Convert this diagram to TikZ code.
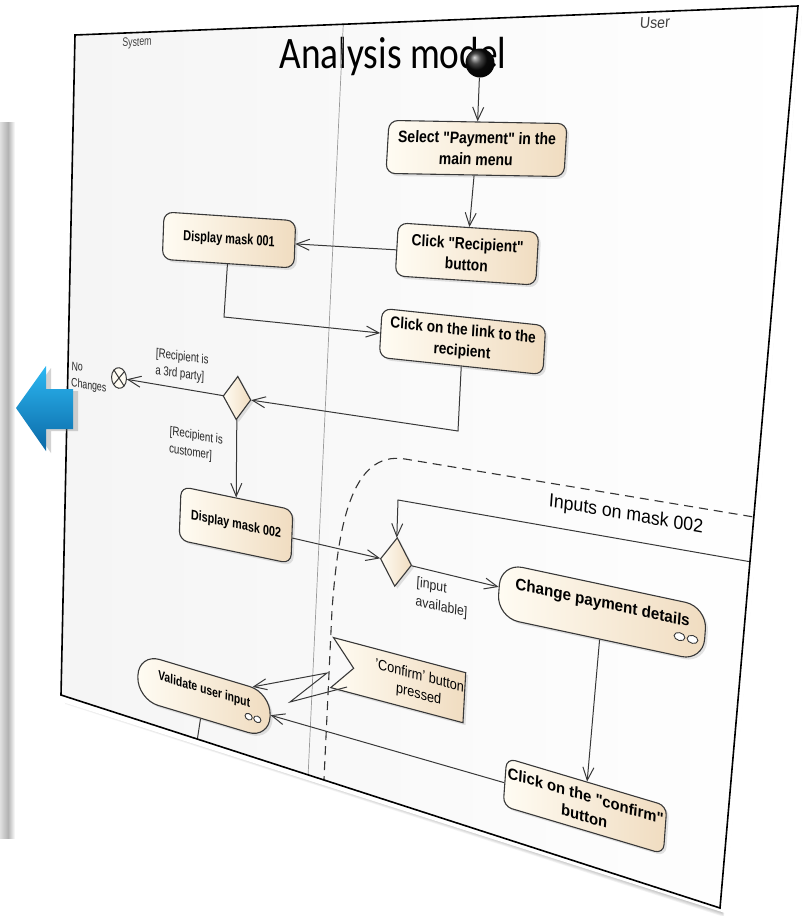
\documentclass[tikz,border=0pt]{standalone}
\usepackage{fontspec}
\setmainfont{Liberation Sans}
\newfontfamily\titlefont[FakeStretch=0.83]{Carlito}
\usetikzlibrary{arrows.meta,calc,shadows,shapes.geometric,shapes.symbols}

\definecolor{actL}{HTML}{FFFCF3}
\definecolor{actR}{HTML}{F0DCC0}
\definecolor{edgeC}{HTML}{383838}
\definecolor{laneC}{HTML}{9A9A9A}
\definecolor{arrTop}{HTML}{2CB8F2}
\definecolor{arrBot}{HTML}{0B68A6}

\newcommand\dq{\textquotedbl}

\tikzset{
  % place={X}{Y}: put the local origin at image point (X,Y) and tilt the
  % local frame like the tilted sheet (linearised perspective of the sheet)
  place/.code 2 args={%
    \pgfmathsetmacro\pX{(#1)/100}%
    \pgfmathsetmacro\pY{(#2)/100}%
    \pgfmathsetmacro\mA{4.96919+0.28331*(\pX)}%
    \pgfmathsetmacro\mB{-0.101214-0.063584*(\pX)}%
    \pgfmathsetmacro\mC{-0.306999+0.28331*(\pY)}%
    \pgfmathsetmacro\mD{7.041909-0.063584*(\pY)}%
    \pgfmathsetmacro\mDet{(\mA)*(\mD)-(\mB)*(\mC)}%
    \pgfmathsetmacro\pU{((\pX-0.75)*(\mD)-(\mB)*(\pY-0.35))/(\mDet)}%
    \pgfmathsetmacro\pV{((\mA)*(\pY-0.35)-(\mC)*(\pX-0.75))/(\mDet)}%
    \pgfmathsetmacro\pW{1-0.28331*(\pU)+0.063584*(\pV)}%
    \pgfmathsetmacro\kA{(\mA)*0.12195/(\pW)}%
    \pgfmathsetmacro\kB{-1*(\mC)*0.12195/(\pW)}%
    \pgfmathsetmacro\kC{-1*(\mB)*0.13141/(\pW)}%
    \pgfmathsetmacro\kD{(\mD)*0.13141/(\pW)}%
    \pgfkeysalso{cm={\kA,\kB,\kC,\kD,(#1pt,-#2pt)}}%
  },
  flow/.style={draw=edgeC, line width=1pt, -{Straight Barb[length=13pt,width=11pt]}},
  nshadow/.style={drop shadow={shadow xshift=2.5pt, shadow yshift=-2.5pt, opacity=0.22}},
  act/.style={draw=edgeC, line width=1.1pt, rounded corners=9pt,
    left color=actL, right color=actR, transform shape, align=center,
    inner sep=1pt, font=\bfseries\fontsize{15}{19.5}\selectfont, nshadow},
  bigact/.style={act, rounded corners=22pt},
  decision/.style={diamond, draw=edgeC, line width=1.1pt, left color=actL,
    right color=actR, transform shape, inner sep=0pt, nshadow},
  guard/.style={transform shape, align=left, inner sep=0pt,
    font=\fontsize{14}{19}\selectfont, text=black!85},
  lanelabel/.style={transform shape, inner sep=0pt,
    font=\fontsize{13}{15}\selectfont, text=black!75},
  rake/.style={draw=edgeC, line width=0.9pt, fill=white},
  regionline/.style={draw=black!80, line width=1.1pt, dash pattern=on 9pt off 6pt},
}

\begin{document}
\begin{tikzpicture}[x=1pt,y=-1pt]
\useasboundingbox (0,0) rectangle (806,916);
\fill[white] (0,0) rectangle (806,916);

% edge of the neighbouring slide on the left
\shade[left color=black!12, right color=black!30] (0,122) rectangle (8,838);
\shade[left color=black!30, right color=white] (8,122) rectangle (15,838);

% the tilted sheet: shadow, white margin, paper
\coordinate (F1) at (75,35);
\coordinate (F2) at (798,6);
\coordinate (F3) at (720,908);
\coordinate (F4) at (61,695);
\foreach \s in {1,...,10}{
  \fill[black,opacity=0.045] (75+0.4*\s,35+0.9*\s) -- (798+0.4*\s,6+0.9*\s)
     -- (720+0.4*\s,908+0.9*\s) -- (61+0.4*\s,695+0.9*\s) -- cycle;
}
\fill[white] (71,31) -- (803,1) -- (725,913) -- (56,700) -- cycle;
\shade[left color=black!4, right color=white] (F1) -- (F2) -- (F3) -- (F4) -- cycle;

% title
\node[font=\titlefont\fontsize{45}{45}\selectfont, anchor=base, inner sep=0pt]
  (title) at (393,68) {Analysis model};

% partition line, interruptible region
\begin{scope}
  \clip (F1) -- (F2) -- (F3) -- (F4) -- cycle;
  \draw[laneC, line width=0.7pt] (344.4,0) -- (306,820);
  \draw[regionline] (323,800) -- (332,610) .. controls (338,530) and (350,450)
     .. (405,459) -- (820,528);
\end{scope}

% lane names
\node[lanelabel, place={137}{43}] (sys) at (0,0) {System};
\node[lanelabel, place={655}{23}] (usr) at (0,0) {User};

% actions and control nodes
\node[act, place={476.5}{148.5}, minimum width=191pt, minimum height=48pt]
  (sel) at (0,0) {Select \dq Payment\dq{} in the\\main menu};
\node[act, place={467}{254}, minimum width=153pt, minimum height=49pt]
  (rec) at (0,0) {Click \dq Recipient\dq\\button};
\node[act, place={229}{240}, minimum width=180pt, minimum height=49pt]
  (dm1) at (0,0) {Display mask 001};
\node[act, place={462.5}{341.5}, minimum width=180pt, minimum height=46pt]
  (link) at (0,0) {Click on the link to the\\recipient};
\node[decision, place={237}{398}, minimum width=38pt, minimum height=46pt]
  (dec1) at (0,0) {};
\node[place={119}{378}, transform shape, circle, draw=edgeC, line width=1pt,
  fill=actL, minimum size=23pt, inner sep=0pt] (fin) at (0,0) {};
\draw[edgeC, line width=1pt] (fin.north west) -- (fin.south east)
  (fin.north east) -- (fin.south west);
\node[act, place={236}{525}, minimum width=155pt, minimum height=58pt]
  (dm2) at (0,0) {Display mask 002};
\node[decision, place={396}{562}, minimum width=37pt, minimum height=49pt]
  (dec2) at (0,0) {};
\node[bigact, place={602}{612}, minimum width=204pt, minimum height=50pt, text depth=18pt]
  (chg) at (0,0) {Change payment details};
\begin{scope}[place={686}{638}]
  \draw[rake] (-6,0) ellipse (5 and 3.5) (6,0) ellipse (5 and 3.5);
\end{scope}
\node[act, place={585}{806}, minimum width=163pt, minimum height=46pt, inner xsep=0pt]
  (conf) at (0,0) {Click on the \dq confirm\dq\\button};
\node[bigact, place={204}{696}, minimum width=192pt, minimum height=52pt, text depth=16pt]
  (val) at (0,0) {Validate user input};
\begin{scope}[place={253}{718}]
  \draw[rake] (-6,0) ellipse (5 and 3.5) (6,0) ellipse (5 and 3.5);
\end{scope}
\node[place={409}{683}, transform shape, signal, signal from=west, signal to=nowhere,
  draw=edgeC, line width=1.1pt, left color=actL, right color=actR, nshadow,
  minimum width=145pt, minimum height=51pt, inner sep=1pt, align=center,
  font=\fontsize{15}{19}\selectfont]
  (sig) at (0,0) {\hspace*{24pt}'Confirm' button\\\hspace*{24pt}pressed};

% guards and region name
\node[guard, place={182}{366}] (g1) at (0,0) {[Recipient is\\a 3rd party]};
\node[guard, place={196}{445}] (g2) at (0,0) {[Recipient is\\customer]};
\node[guard, place={442}{598}] (g3) at (0,0) {[input\\available]};
\node[guard, place={89}{378}] (nc) at (0,0) {No\\Changes};
\node[guard, place={626}{515}, font=\fontsize{17}{20}\selectfont, text=black]
  (inp) at (0,0) {Inputs on mask 002};

% initial node
\node[circle, minimum size=29pt, inner sep=0pt, ball color=black!95] (init) at (480,63) {};

% control flows
\coordinate (b1) at (224,317);
\coordinate (b2) at (458,431);
\coordinate (zs) at (347,687);
\coordinate (z1) at (290,702);
\coordinate (z2) at (327,673);
\draw[flow] (init) -- (sel);
\draw[flow] (sel) -- (rec);
\draw[flow] (rec) -- (dm1);
\draw[flow] (dm1) -- (b1) -- (link);
\draw[flow] (link) -- (b2) -- (dec1);
\draw[flow] (dec1) -- (fin);
\draw[flow] (dec1) -- (dm2);
\draw[flow] (dm2) -- (dec2);
\draw[flow] (dec2) -- (chg);
\draw[flow] (chg) -- (conf);
\draw[flow] (conf) -- (val);
\draw[flow] (zs) -- (z1) -- (z2) -- (val);
\begin{scope}
  \clip (F1) -- (F2) -- (F3) -- (F4) -- cycle;
  \coordinate (lpE) at (820,574);
  \coordinate (lpC) at (398,500);
  \coordinate (vb) at (188,800);
  \draw[flow] (lpE) -- (lpC) -- (dec2);
  \draw[draw=edgeC, line width=1pt] (val) -- (vb);
\end{scope}

% sheet frame
\draw[black, line width=1.6pt, line join=miter] (F1) -- (F2) -- (F3) -- (F4) -- cycle;

% blue back arrow
\path[drop shadow={shadow xshift=5pt, shadow yshift=-2pt, opacity=0.35},
  top color=arrTop, bottom color=arrBot]
  (16,408) -- (46,366) -- (46,389) -- (73,389) -- (73,429) -- (46,429) -- (46,451) -- cycle;
\end{tikzpicture}
\end{document}
